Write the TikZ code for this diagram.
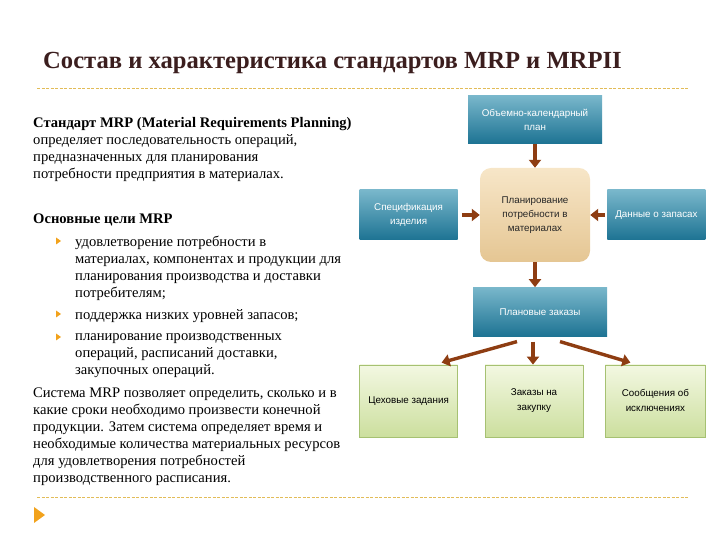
\documentclass[tikz,border=0pt]{standalone}
\usepackage{fontspec}
\setmainfont{Liberation Serif}
\newfontfamily\boxfont{Liberation Sans}
\usetikzlibrary{arrows.meta,positioning}

\definecolor{titlebrown}{HTML}{3B1E1E}
\definecolor{rulegold}{HTML}{E2BC58}
\definecolor{bulletorange}{HTML}{F2A21C}
\definecolor{tealtop}{HTML}{79B7CB}
\definecolor{tealmid}{HTML}{3A93B0}
\definecolor{tealbot}{HTML}{1D7393}
\definecolor{sandtop}{HTML}{F7E6C8}
\definecolor{sandbot}{HTML}{E5C693}
\definecolor{greentop}{HTML}{F3F8E2}
\definecolor{greenbot}{HTML}{CCDF9E}
\definecolor{greenline}{HTML}{A6C172}
\definecolor{arrowbrown}{HTML}{8E3D12}

\begin{document}
\begin{tikzpicture}[x=1pt, y=1pt,
    node distance=24pt,
    txt/.style={anchor=north west, inner sep=0pt, align=left, font=\fontsize{14.6}{17}\selectfont},
    bluebox/.style={minimum width=98pt, minimum height=50pt, inner sep=2pt, align=center,
        top color=tealtop, middle color=tealmid, bottom color=tealbot, text=white,
        font=\boxfont\fontsize{9.8}{14}\selectfont},
    plannode/.style={minimum width=110pt, minimum height=94pt, inner sep=2pt, align=center,
        rounded corners=11pt, top color=sandtop, bottom color=sandbot, text=black!85,
        font=\boxfont\fontsize{9.8}{14}\selectfont},
    outbox/.style={draw=greenline, minimum width=98pt, minimum height=72pt, inner sep=2pt, align=center,
        top color=greentop, bottom color=greenbot, text=black,
        font=\boxfont\fontsize{9.8}{15}\selectfont},
    link/.style={-{Triangle[length=8pt, width=12pt]}, line width=3.4pt, arrowbrown},
    goldrule/.style={rulegold, line width=0.9pt, dash pattern=on 3pt off 1.5pt}
]
\useasboundingbox (0,0) rectangle (720,540);

% title and rules
\node[anchor=west, inner sep=0pt, text=titlebrown, font=\fontsize{24.6}{28}\selectfont\bfseries] (title) at (43,477)
    {Состав и характеристика стандартов MRP и MRPII};
\draw[goldrule] (37,452) -- (688,452);
\draw[goldrule] (37,43) -- (688,43);
\fill[bulletorange] (34,33) -- (45,25) -- (34,17) -- cycle;

% left column
\node[txt] (intro) at (33,423) {\textbf{Стандарт MRP (Material Requirements Planning)}\\
    определяет последовательность операций,\\
    предназначенных для планирования\\
    потребности предприятия в материалах.};
\node[txt] (goals) at (33,326) {\textbf{Основные цели MRP}};
\node[txt] (goalA) at (75,304) {удовлетворение потребности в\\
    материалах, компонентах и продукции для\\
    планирования производства и доставки\\
    потребителям;};
\node[txt] (goalB) at (75,231) {поддержка низких уровней запасов;};
\node[txt] (goalC) at (75,207) {планирование производственных\\
    операций, расписаний доставки,\\
    закупочных операций.};
\foreach \by in {299,226,203}
    \fill[bulletorange] (56,\by+3.5) -- (61,\by) -- (56,\by-3.5) -- cycle;
\node[txt] (system) at (33,152) {Система MRP позволяет определить, сколько и в\\
    какие сроки необходимо произвести конечной\\
    продукции. Затем система определяет время и\\
    необходимые количества материальных ресурсов\\
    для удовлетворения потребностей\\
    производственного расписания.};

% MRP scheme
\node[plannode] (mrp) at (535,325) {Планирование\\потребности в\\материалах};
\node[bluebox, minimum width=134pt, minimum height=48pt, above=24pt of mrp] (plan) {Объемно-календарный\\план};
\node[bluebox, left=22pt of mrp] (spec) {Спецификация\\изделия};
\node[bluebox, right=17pt of mrp] (stock) {Данные о запасах};
\node[bluebox, minimum width=134pt, minimum height=49pt, below=25pt of mrp, xshift=5pt] (orders) {Плановые заказы};
\node[outbox, below=28pt of orders, xshift=-6pt] (buy) {Заказы на\\закупку};
\node[outbox, left=27pt of buy] (shop) {Цеховые задания};
\node[outbox, right=22pt of buy, minimum width=100pt] (excp) {Сообщения об\\исключениях};

\draw[link] (plan) -- (mrp);
\draw[link, shorten <=4pt] (spec) -- (mrp);
\draw[link, shorten <=2pt] (stock) -- (mrp);
\draw[link] (mrp.south) -- (mrp.south |- orders.north);
\coordinate (forkL) at ([xshift=-23pt, yshift=-5pt]orders.south);
\coordinate (forkM) at ([xshift=-7pt, yshift=-5pt]orders.south);
\coordinate (forkR) at ([xshift=20pt, yshift=-5pt]orders.south);
\draw[link] (forkL) -- ([xshift=33pt, yshift=2pt]shop.north);
\draw[link] (forkM) -- (forkM |- buy.north);
\draw[link] (forkR) -- ([xshift=-25pt, yshift=2pt]excp.north);
\end{tikzpicture}
\end{document}
